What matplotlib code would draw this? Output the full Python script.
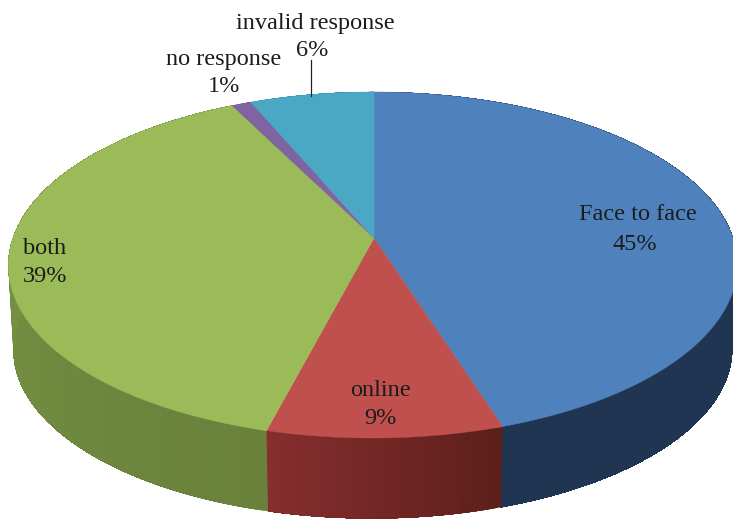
import numpy as np
import matplotlib
matplotlib.use('Agg')
import matplotlib.pyplot as plt
from matplotlib.colors import to_rgb

# slice shares as measured on the picture, labels keep the printed rounding
NAMES = ['Face to face', 'online', 'both', 'no response', 'invalid response']
SHARES = [45.0, 9.0, 38.6, 1.0, 6.4]
PERCENTS = ['45%', '9%', '39%', '1%', '6%']
TOP_COLORS = ['#4f81bd', '#c0504d', '#9bbb59', '#8064a2', '#4aa8c4']
WALL_LEFT = ['#1f3551', '#872e2f', '#7f9d4a', '#5f4a7a', '#2f7f95']
WALL_RIGHT = ['#1f3551', '#5c1f1a', '#69813b', '#5f4a7a', '#2f7f95']

CX, CY = 374, 238
A, B, K = 360, 168.8, 0.156
DEPTH, A2, B2 = 85, 355, 165


def rim(theta, a=A, b=B, dy=0):
	# theta runs clockwise from 12 o'clock, K gives the perspective
	u, v = np.sin(theta), np.cos(theta)
	w = 1 + K * v
	# front of the disc sits a little left of the apex
	shift = -2 * (1 - v) / 2
	return CX + shift + a * u / w, CY + dy - b * v / w


def mix(c1, c2, t):
	c1, c2 = np.array(to_rgb(c1)), np.array(to_rgb(c2))
	return tuple(c1 + (c2 - c1) * t)


fig = plt.figure(figsize=(7.33, 5.23), dpi=100)
ax = fig.add_axes([0, 0, 1, 1])
ax.set_xlim(0, 733)
ax.set_ylim(523, 0)
ax.axis('off')

edges = np.deg2rad(np.cumsum([0] + SHARES) * 3.6)

# side wall first, top surface hides the back half
for i in range(len(SHARES)):
	th = np.linspace(edges[i], edges[i + 1], max(int(SHARES[i] * 6), 4))
	x1, y1 = rim(th)
	x2, y2 = rim(th, A2, B2, DEPTH)
	n = len(th)
	for j in range(n - 1):
		t = (j + 0.5) / (n - 1)
		# each strip runs to the end of the slice so no seams show
		col = mix(WALL_RIGHT[i], WALL_LEFT[i], t)
		ax.fill(np.r_[x1[j:], x2[j:][::-1]], np.r_[y1[j:], y2[j:][::-1]],
				color=col, lw=0, zorder=2)

for i in range(len(SHARES)):
	th = np.linspace(edges[i], edges[i + 1], 200)
	x, y = rim(th)
	ax.fill(np.r_[CX, x], np.r_[CY, y], color=TOP_COLORS[i], lw=0.3, zorder=3)

# labels
font = dict(family='Liberation Serif', fontsize=17.5, color='#1c1c1c',
			ha='center', va='center', zorder=5)
name_pos = [(638, 214), (380, 391), (45, 249), (224, 59), (315, 23)]
pct_pos = [(635, 244), (380, 419), (45, 277), (224, 87), (312, 51)]
for i in range(len(NAMES)):
	ax.text(name_pos[i][0], name_pos[i][1], NAMES[i], **font)
	ax.text(pct_pos[i][0], pct_pos[i][1], PERCENTS[i], **font)

# leader for the invalid response label
ax.plot([311, 311], [60, 96], color='#222222', lw=0.9, zorder=4)

fig.savefig('out.png', dpi=100)
